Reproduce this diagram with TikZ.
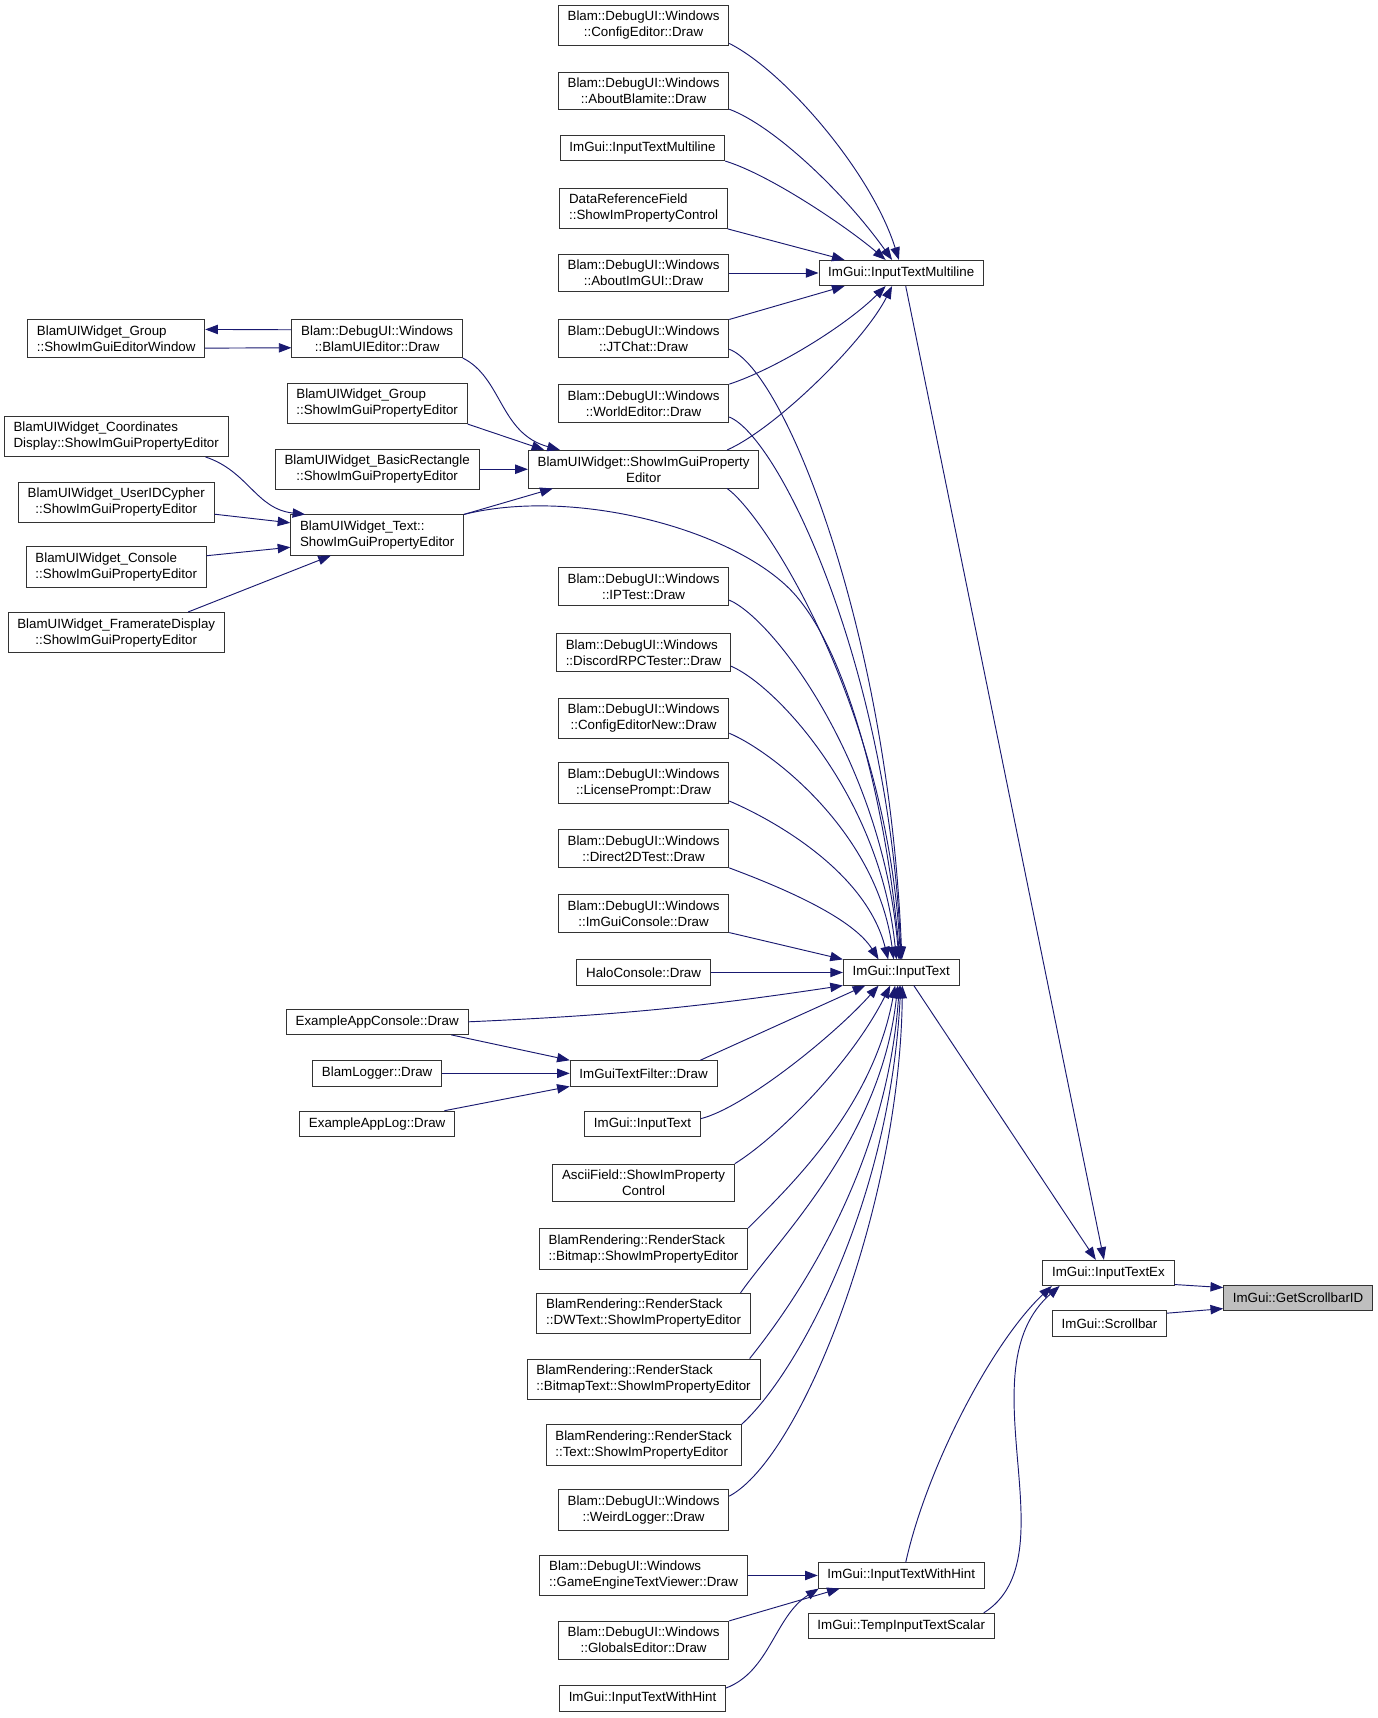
\documentclass[tikz,border=0pt]{standalone}
\usepackage{fontspec}
\setmainfont{Liberation Sans}
\usetikzlibrary{arrows.meta}
\definecolor{midnight}{HTML}{191970}

\begin{document}
\begin{tikzpicture}[x=0.8223pt, y=0.8223pt,
    func/.style={rectangle, draw=black!80, line width=0.6pt, fill=white,
        font=\fontsize{10}{12}\selectfont, inner xsep=7pt, inner ysep=4.5pt,
        minimum height=19pt, align=center},
    lft/.style={func, align=left},
    root/.style={func, fill=black!25},
    call/.style={draw=midnight, line width=0.7pt, -{Triangle[length=9.5pt,width=7pt]}}]
    \path[use as bounding box, fill=white] (0,0) rectangle (1256,-1567);

    % left columns
    \node[lft] (grp) at (106,-309) {BlamUIWidget\_Group\\::ShowImGuiEditorWindow};
    \node[lft] (bc) at (106,-398) {BlamUIWidget\_Coordinates\\Display::ShowImGuiPropertyEditor};
    \node[func] (buid) at (106,-458) {BlamUIWidget\_UserIDCypher\\::ShowImGuiPropertyEditor};
    \node[lft] (bcon) at (106,-517) {BlamUIWidget\_Console\\::ShowImGuiPropertyEditor};
    \node[func] (bfd) at (106,-577) {BlamUIWidget\_FramerateDisplay\\::ShowImGuiPropertyEditor};

    \node[func] (bue) at (344,-309) {Blam::DebugUI::Windows\\::BlamUIEditor::Draw};
    \node[lft] (bgp) at (344,-368) {BlamUIWidget\_Group\\::ShowImGuiPropertyEditor};
    \node[func] (bbr) at (344,-428) {BlamUIWidget\_BasicRectangle\\::ShowImGuiPropertyEditor};
    \node[lft] (bt) at (344,-488) {BlamUIWidget\_Text::\\ShowImGuiPropertyEditor};
    \node[func] (eac) at (344,-932) {ExampleAppConsole::Draw};
    \node[func] (bl) at (344,-979) {BlamLogger::Draw};
    \node[func] (eal) at (344,-1025) {ExampleAppLog::Draw};

    % callers
    \node[func] (ce) at (587,-23) {Blam::DebugUI::Windows\\::ConfigEditor::Draw};
    \node[func] (ab) at (587,-83) {Blam::DebugUI::Windows\\::AboutBlamite::Draw};
    \node[func] (itmc) at (586,-135) {ImGui::InputTextMultiline};
    \node[lft] (drf) at (587,-190) {DataReferenceField\\::ShowImPropertyControl};
    \node[func] (aig) at (587,-249) {Blam::DebugUI::Windows\\::AboutImGUI::Draw};
    \node[func] (jt) at (587,-309) {Blam::DebugUI::Windows\\::JTChat::Draw};
    \node[func] (we) at (587,-368) {Blam::DebugUI::Windows\\::WorldEditor::Draw};
    \node[func] (bu) at (587,-428) {BlamUIWidget::ShowImGuiProperty\\Editor};
    \node[func] (ipt) at (587,-535) {Blam::DebugUI::Windows\\::IPTest::Draw};
    \node[lft] (drpc) at (587,-595) {Blam::DebugUI::Windows\\::DiscordRPCTester::Draw};
    \node[func] (cen) at (587,-655) {Blam::DebugUI::Windows\\::ConfigEditorNew::Draw};
    \node[func] (lp) at (587,-714) {Blam::DebugUI::Windows\\::LicensePrompt::Draw};
    \node[func] (d2d) at (587,-774) {Blam::DebugUI::Windows\\::Direct2DTest::Draw};
    \node[func] (igc) at (587,-833) {Blam::DebugUI::Windows\\::ImGuiConsole::Draw};
    \node[func] (hc) at (587,-887) {HaloConsole::Draw};
    \node[func] (itf) at (587,-979) {ImGuiTextFilter::Draw};
    \node[func] (itc) at (586,-1025) {ImGui::InputText};
    \node[func] (af) at (587,-1079) {AsciiField::ShowImProperty\\Control};
    \node[lft] (bm) at (587,-1139) {BlamRendering::RenderStack\\::Bitmap::ShowImPropertyEditor};
    \node[lft] (dw) at (587,-1198) {BlamRendering::RenderStack\\::DWText::ShowImPropertyEditor};
    \node[lft] (bmt) at (587,-1258) {BlamRendering::RenderStack\\::BitmapText::ShowImPropertyEditor};
    \node[lft] (rst) at (587,-1318) {BlamRendering::RenderStack\\::Text::ShowImPropertyEditor};
    \node[func] (wl) at (587,-1377) {Blam::DebugUI::Windows\\::WeirdLogger::Draw};
    \node[lft] (getv) at (587,-1437) {Blam::DebugUI::Windows\\::GameEngineTextViewer::Draw};
    \node[func] (ge) at (587,-1496) {Blam::DebugUI::Windows\\::GlobalsEditor::Draw};
    \node[func] (itwhc) at (586,-1549) {ImGui::InputTextWithHint};

    % callees
    \node[func] (itm) at (822,-249) {ImGui::InputTextMultiline};
    \node[func] (it) at (822,-887) {ImGui::InputText};
    \node[func] (itwh) at (822,-1437) {ImGui::InputTextWithHint};
    \node[func] (tits) at (822,-1483) {ImGui::TempInputTextScalar};
    \node[func] (iex) at (1011,-1161) {ImGui::InputTextEx};
    \node[func] (sb) at (1012,-1207) {ImGui::Scrollbar};
    \node[root] (gsid) at (1184,-1184) {ImGui::GetScrollbarID};

    % InputTextMultiline
    \draw[call] (ce.-12) .. controls +(50,-25) and +(-25,80) .. (itm.100);
    \draw[call] (ab.-12) .. controls +(40,-15) and +(-45,63) .. (itm.125);
    \draw[call] (itmc.south east) .. controls +(40,-12) and +(-35,30) .. (itm.140);
    \draw[call] (drf.south east) -- (itm.167);
    \draw[call] (aig) -- (itm);
    \draw[call] (jt.north east) -- (itm.-167);
    \draw[call] (we.north east) .. controls +(45,15) and +(-35,-35) .. (itm.-140);
    \draw[call] (bu.13) .. controls +(45,20) and +(-25,-50) .. (itm.-125);

    % InputText
    \draw[call] (jt.-7) .. controls +(50,-18) and +(-12,300) .. (it.87);
    \draw[call] (we.-9) .. controls +(45,-18) and +(-12,270) .. (it.90);
    \draw[call] (bu.-13) .. controls +(35,-25) and +(-12,230) .. (it.93);
    \draw[call] (bt.north east) .. controls (520,-445) and (660,-480) .. (718,-535)
        .. controls (776,-590) and (810,-750) .. (it.96);
    \draw[call] (ipt.-9) .. controls +(40,-17) and +(-15,180) .. (it.100);
    \draw[call] (drpc.-9) .. controls +(40,-17) and +(-15,150) .. (it.110);
    \draw[call] (cen.-10) .. controls +(40,-17) and +(-15,115) .. (it.120);
    \draw[call] (lp.-12) .. controls +(40,-17) and +(-20,80) .. (it.135);
    \draw[call] (d2d.south east) .. controls +(40,-15) and +(-25,40) .. (it.150);
    \draw[call] (igc.south east) -- (it.north west);
    \draw[call] (hc) -- (it);
    \draw[call] (eac.east) to[bend right=3] (it.south west);
    \draw[call] (itf.13) -- (it.-160);
    \draw[call] (itc.5) .. controls +(40,10) and +(-40,-45) .. (it.-150);
    \draw[call] (af.north east) .. controls +(40,25) and +(-35,-70) .. (it.-130);
    \draw[call] (bm.north east) .. controls +(40,40) and +(-20,-110) .. (it.-115);
    \draw[call] (dw.12) .. controls +(35,50) and +(-15,-140) .. (it.-105);
    \draw[call] (bmt.11) .. controls +(40,50) and +(-12,-170) .. (it.-98);
    \draw[call] (rst.north east) .. controls +(50,45) and +(-10,-200) .. (it.-92);
    \draw[call] (wl.9) .. controls +(66,35) and +(-2,-200) .. (it.-85);

    % ShowImGuiPropertyEditor
    \draw[call] (bue.south east) .. controls +(36,-18) and +(-55,15) .. (bu.167);
    \draw[call] (bgp.south east) -- (bu.169);
    \draw[call] (bbr) -- (bu);
    \draw[call] (bt.north east) -- (bu.-168);
    \draw[call] (bue.174) -- (grp.6);
    \draw[call] (grp.-6) -- (bue.-174);

    \draw[call] (bc.-13) .. controls +(39,-13) and +(-45,5) .. (bt.164);
    \draw[call] (buid.-7) -- (bt.172);
    \draw[call] (bcon.7) -- (bt.-172);
    \draw[call] (bfd.16) -- (bt.-156);

    \draw[call] (eac.-10) -- (itf.north west);
    \draw[call] (bl) -- (itf);
    \draw[call] (eal.11) -- (itf.south west);

    \draw[call] (getv) -- (itwh);
    \draw[call] (ge.north east) -- (itwh.-168);
    \draw[call] (itwhc.7) .. controls +(40,15) and +(-40,-25) .. (itwh.-171);

    % InputTextEx, GetScrollbarID
    \draw[call] (itm.-71) -- (iex.109);
    \draw[call] (it.-46) -- (iex.134);
    \draw[call] (itwh.71) .. controls +(19,86) and +(-55,-52) .. (iex.-167);
    \draw[call] (tits.9) .. controls +(81,51) and +(-88,-77) .. (iex.-165);
    \draw[call] (iex.-10) -- (gsid.172);
    \draw[call] (sb.10) -- (gsid.-172);
\end{tikzpicture}
\end{document}
